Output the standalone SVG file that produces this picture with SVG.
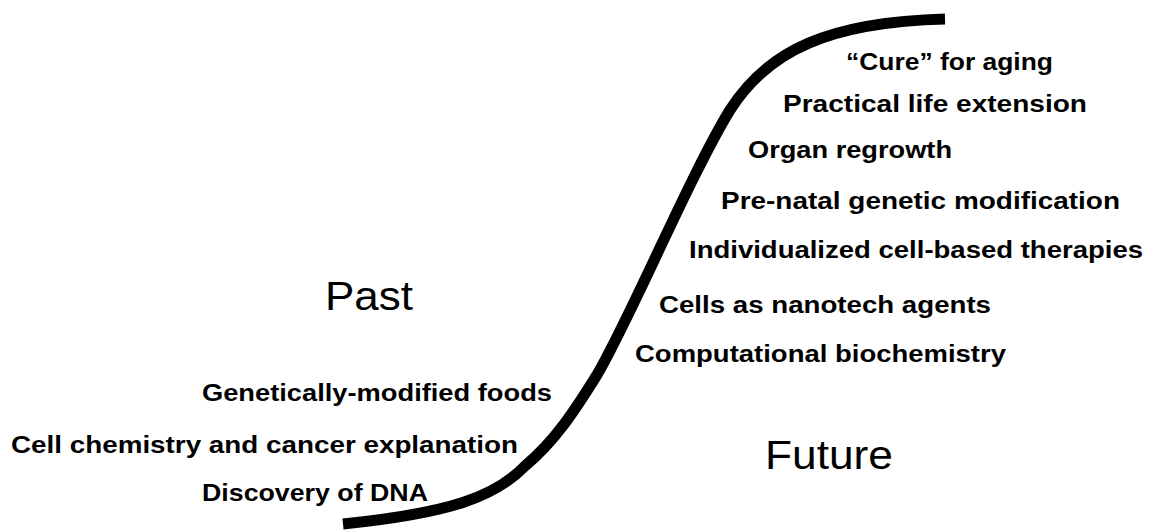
<svg xmlns="http://www.w3.org/2000/svg" width="1152" height="531" viewBox="0 0 1152 531">
<style>
.lbl{font-family:"Liberation Sans",Arial,sans-serif;font-weight:bold;font-size:23px;fill:#000}
.big{font-family:"Liberation Sans",Arial,sans-serif;font-size:41px;fill:#000}
.curve{fill:none;stroke:#000;stroke-width:11;stroke-linecap:butt}
</style>
<rect width="1152" height="531" fill="#fff"/>
<g id="connectors">
<path class="curve" d="M343,524 C450,513 495,497 525,466 C555,441 575,410 595,378 C625,330 690,175 730,110 C768,50 830,22 945,19"/>
</g>
<g id="past"><text class="big" x="325" y="310" textLength="88" lengthAdjust="spacingAndGlyphs">Past</text></g>
<g id="future"><text class="big" x="765" y="469" textLength="128" lengthAdjust="spacingAndGlyphs">Future</text></g>
<g id="cure"><text class="lbl" x="846" y="70" textLength="207" lengthAdjust="spacingAndGlyphs">“Cure” for aging</text></g>
<g id="practical"><text class="lbl" x="783" y="112" textLength="304" lengthAdjust="spacingAndGlyphs">Practical life extension</text></g>
<g id="organ"><text class="lbl" x="748" y="158" textLength="204" lengthAdjust="spacingAndGlyphs">Organ regrowth</text></g>
<g id="prenatal"><text class="lbl" x="721" y="209" textLength="399" lengthAdjust="spacingAndGlyphs">Pre-natal genetic modification</text></g>
<g id="individualized"><text class="lbl" x="689" y="258" textLength="454" lengthAdjust="spacingAndGlyphs">Individualized cell-based therapies</text></g>
<g id="nanotech"><text class="lbl" x="659" y="313" textLength="332" lengthAdjust="spacingAndGlyphs">Cells as nanotech agents</text></g>
<g id="computational"><text class="lbl" x="635" y="362" textLength="371" lengthAdjust="spacingAndGlyphs">Computational biochemistry</text></g>
<g id="gmfoods"><text class="lbl" x="202" y="401" textLength="350" lengthAdjust="spacingAndGlyphs">Genetically-modified foods</text></g>
<g id="cellchem"><text class="lbl" x="11" y="453" textLength="507" lengthAdjust="spacingAndGlyphs">Cell chemistry and cancer explanation</text></g>
<g id="dna"><text class="lbl" x="202" y="501" textLength="226" lengthAdjust="spacingAndGlyphs">Discovery of DNA</text></g>
</svg>
